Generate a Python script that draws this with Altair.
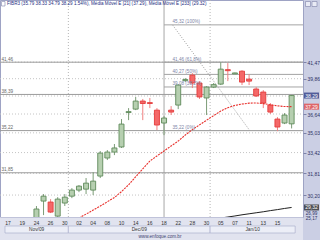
import altair as alt
import pandas as pd

# ---------------- data ----------------
day_labels = ["17", "18", "19", "23", "24", "25", "26", "27", "30",
              "01", "02", "03", "04", "07", "08", "09", "10", "11", "14", "15",
              "16", "17", "18", "21", "22", "23", "28", "29", "30",
              "04", "05", "06", "07", "08", "11", "12", "13", "14", "15", "18", "19"]
label_slots = list(range(0, 39, 2))

candle_slots = list(range(4, 41))
opens = [28.38, 29.77, 29.70, 28.72, 29.63, 30.12, 30.56, 30.63, 30.56, 31.60, 32.99, 33.46, 33.87,
         36.77, 37.07, 37.79, 37.65, 36.98, 35.86, 36.98, 37.43, 39.68, 40.20, 39.45, 38.07, 39.07,
         39.35, 40.73, 40.32, 40.58, 39.82, 38.89, 38.61, 37.43, 36.20, 35.86, 35.79]
highs = [29.42, 30.27, 29.91, 30.05, 30.27, 30.70, 30.93, 31.45, 31.90, 33.54, 33.62, 34.11, 36.20,
         37.16, 38.16, 37.98, 38.07, 37.16, 36.46, 37.34, 39.35, 39.92, 40.39, 39.63, 39.16, 39.45,
         41.47, 41.37, 40.44, 40.68, 40.30, 39.07, 38.79, 37.61, 36.37, 36.72, 38.33]
lows = [28.24, 28.79, 28.93, 28.59, 29.42, 29.98, 30.41, 30.27, 30.20, 31.45, 32.83, 33.22, 33.79,
        36.11, 36.98, 36.11, 37.16, 35.26, 34.84, 36.55, 37.07, 39.54, 38.98, 37.98, 36.55, 38.98,
        39.26, 39.63, 40.30, 39.26, 39.26, 38.16, 37.16, 36.64, 35.17, 35.77, 35.40]
closes = [29.21, 30.12, 29.00, 29.91, 30.05, 30.56, 30.85, 31.07, 31.22, 33.38, 33.46, 33.79, 35.77,
          36.85, 37.79, 37.57, 37.57, 35.69, 36.29, 36.81, 39.26, 39.78, 39.45, 38.16, 39.07, 39.30,
          40.78, 40.63, 40.41, 39.54, 39.63, 38.25, 37.61, 36.81, 35.52, 36.55, 38.29]

ema21_slots = list(range(10, 41))
ema21 = [28.59, 28.86, 29.14, 29.42, 29.72, 30.02, 30.45, 30.95, 31.55, 32.15, 32.75, 33.15, 33.55,
         33.95, 34.35, 34.85, 35.30, 35.70, 36.10, 36.50, 36.90, 37.20, 37.40, 37.52, 37.60, 37.62,
         37.56, 37.46, 37.36, 37.30, 37.29]
ema233_slots = list(range(29, 41))
ema233 = [28.52, 28.59, 28.66, 28.73, 28.81, 28.88, 28.95, 29.02, 29.10, 29.17, 29.25, 29.32]

y_ticks = [41.47, 39.86, 38.25, 36.64, 35.03, 33.42, 31.81, 30.20]
y_ticks_labelled = [41.47, 39.86, 36.64, 35.03, 33.42, 31.81, 30.20]

fib_a_values = [41.46, 38.39, 35.22, 31.85]
fib_a_labels = ["41,46", "38,39", "35,22", "31,85"]
fib_b_values = [45.32, 41.46, 40.27, 39.08, 35.22]
fib_b_labels = ["45,32 (100%)", "41,46 (61,8%)", "40,27 (50%)", "39,08 (38,2%)", "35,22 (0%)"]
fib_b_start = 22
fib_trend_slots = [23.2, 34.1]
fib_trend_values = [45.32, 35.22]

months = ["Nov/09", "Dec/09", "Jan/10"]
month_first = [0, 9, 29]
month_last = [8, 28, 40]

marker_values = [38.29, 37.29, 29.32]
marker_texts = ["38,29", "37,29", "29,32"]
marker_colors = ["#1d2b7b", "#e53935", "#1a1a1a"]
extra_axis_texts = ["26,99", "25,17"]

title_text = ("FIBR3 (35.79  38.33  34.79  38.29  1.54%), Média Móvel E [21] (37.29), "
              "Média Móvel E [233] (29.32)")
watermark = "www.enfoque.com.br"

# ---------------- layout ----------------
W, H = 303, 217
xmin, xmax = -0.4366, 40.9
ymin, ymax = 28.66, 48.09
FONT = "Liberation Sans"

xs = alt.Scale(domain=[xmin, xmax], nice=False, zero=False)
ys = alt.Scale(type="log", domain=[ymin, ymax], nice=False)
yaxis = alt.Axis(orient="right", values=y_ticks_labelled, grid=False, domain=False,
                 labelExpr="replace(format(datum.value, '.2f'), '.', ',')",
                 tickSize=3, tickColor="#7d82a8", labelFontSize=5, labelFont=FONT,
                 labelColor="#2d3366", labelPadding=1, labelOverlap=False, title=None)


def X(f):
    return alt.X(f, type="quantitative", scale=xs, axis=None)


def Y(f):
    return alt.Y(f, type="quantitative", scale=ys, axis=yaxis)


dummy = pd.DataFrame({"k": [0]})


def rect(x, x2, y, y2, fill, stroke=None, sw=0.0):
    kw = dict(fill=fill, clip=False)
    if stroke:
        kw.update(stroke=stroke, strokeWidth=sw)
    return alt.Chart(dummy).mark_rect(**kw).encode(
        x=alt.value(x), x2=alt.value(x2), y=alt.value(y), y2=alt.value(y2))


cdf = pd.DataFrame({"slot": candle_slots, "o": opens, "h": highs, "l": lows, "c": closes})
cdf["dir"] = ["up" if c >= o else "down" for o, c in zip(opens, closes)]

grid_df = pd.DataFrame({"v": y_ticks})
grid = alt.Chart(grid_df).mark_rule(color="#c4c4c4", strokeDash=[1, 2], strokeWidth=1).encode(
    y=Y("v"), x=alt.value(0), x2=alt.value(W))

msep_df = pd.DataFrame({"s": [f - 0.5 for f in month_first[1:]]})
msep = alt.Chart(msep_df).mark_rule(color="#b5b5b5", strokeDash=[1, 2]).encode(
    x=X("s"), y=alt.value(0), y2=alt.value(H))

vline = alt.Chart(pd.DataFrame({"s": [fib_b_start]})).mark_rule(color="#a8a8a8").encode(
    x=X("s"), y=alt.value(0), y2=alt.value(H))

fa_df = pd.DataFrame({"v": fib_a_values, "t": fib_a_labels})
fib_a = alt.Chart(fa_df).mark_rule(color="#9c9c9c", strokeWidth=1).encode(
    y=Y("v"), x=alt.value(0), x2=alt.value(W))
fib_a_txt = alt.Chart(fa_df).mark_text(align="left", baseline="bottom", dy=-0.5, fontSize=4.6,
                                       font=FONT, color="#666666").encode(
    x=alt.value(1.5), y=Y("v"), text="t:N")

fb_df = pd.DataFrame({"v": fib_b_values, "t": fib_b_labels,
                      "s": [fib_b_start] * len(fib_b_values),
                      "ls": [fib_trend_slots[0]] * len(fib_b_values)})
fib_b = alt.Chart(fb_df).mark_rule(color="#a4a4a4", strokeWidth=1).encode(
    y=Y("v"), x=X("s"), x2=alt.value(W))
fib_b_txt = alt.Chart(fb_df).mark_text(align="left", baseline="bottom", dy=-0.5, fontSize=4.6,
                                       font=FONT, color="#7d84a6").encode(
    x=X("ls"), y=Y("v"), text="t:N")

trend = alt.Chart(pd.DataFrame({"s": fib_trend_slots, "v": fib_trend_values})).mark_line(
    color="#a0a0a0", strokeDash=[1, 1.5], strokeWidth=1, clip=True).encode(x=X("s"), y=Y("v"))

wicks = alt.Chart(cdf).mark_rule(strokeWidth=1, clip=True).encode(
    x=X("slot"), y=Y("l"), y2="h",
    color=alt.Color("dir:N", scale=alt.Scale(domain=["up", "down"], range=["#7c9c77", "#f08080"]),
                    legend=None))
bodies = alt.Chart(cdf).mark_bar(size=5, strokeWidth=0.9, clip=True).encode(
    x=X("slot"), y=Y("o"), y2="c",
    fill=alt.Fill("dir:N", scale=alt.Scale(domain=["up", "down"], range=["#b6cfb0", "#f46868"]),
                  legend=None),
    stroke=alt.Stroke("dir:N", scale=alt.Scale(domain=["up", "down"], range=["#5f8a5a", "#e43c3c"]),
                      legend=None))

e21 = alt.Chart(pd.DataFrame({"s": ema21_slots, "v": ema21})).mark_line(
    color="#e8302c", strokeWidth=1.1, strokeDash=[2, 1], clip=True).encode(x=X("s"), y=Y("v"))
e233 = alt.Chart(pd.DataFrame({"s": ema233_slots, "v": ema233})).mark_line(
    color="#202020", strokeWidth=1, clip=True).encode(x=X("s"), y=Y("v"))

mk_df = pd.DataFrame({"v": marker_values, "t": marker_texts, "col": marker_colors})
mk_box = alt.Chart(mk_df).mark_tick(thickness=6, size=15, orient="horizontal", clip=False).encode(
    y=Y("v"), x=alt.value(311.5), color=alt.Color("col:N", scale=None))
mk_txt = alt.Chart(mk_df).mark_text(fontSize=5, font=FONT, color="white", clip=False).encode(
    y=Y("v"), x=alt.value(311.5), text="t:N")
extra_txt = alt.Chart(pd.DataFrame({"t": extra_axis_texts, "yy": [214, 218.5]})).mark_text(
    fontSize=4.6, font=FONT, color="#2d3366", clip=False).encode(
    x=alt.value(311.5), y=alt.Y("yy:Q", scale=None, axis=None), text="t:N")

bottom = rect(0, W, H + 0.5, H + 23, "#e1e3ef")
xl_df = pd.DataFrame({"slot": label_slots, "t": [day_labels[i] for i in label_slots]})
xlabels = alt.Chart(xl_df).mark_text(fontSize=5, font=FONT, color="#333333", clip=False).encode(
    x=X("slot"), y=alt.value(H + 5.5), text="t:N")

mdf = pd.DataFrame({"m": months, "f": month_first, "l": month_last})
mdf["x0"] = [max(f - 0.5, xmin) for f in month_first]
mdf["x1"] = [min(l + 0.5, xmax) for l in month_last]
mdf["mid"] = (mdf["x0"] + mdf["x1"]) / 2
mboxes = alt.Chart(mdf).mark_rect(fill="#eceef7", stroke="#a3a8c8", strokeWidth=0.6, clip=False).encode(
    x=X("x0"), x2="x1", y=alt.value(H + 9), y2=alt.value(H + 16))
mtext = alt.Chart(mdf).mark_text(fontSize=4.8, font=FONT, color="#333333", clip=False).encode(
    x=X("mid"), y=alt.value(H + 12.5), text="m:N")
wm = alt.Chart(dummy).mark_text(fontSize=4.6, font=FONT, color="#3c4270", clip=False).encode(
    x=alt.value(160), y=alt.value(H + 20), text=alt.value(watermark))

title = alt.Chart(dummy).mark_text(fontSize=4.6, font=FONT, color="#1c2c80", align="left",
                                   baseline="middle", clip=False).encode(
    x=alt.value(7), y=alt.value(4), text=alt.value(title_text))
icon0 = rect(1.5, 5, 1.5, 6, "#ffffff", "#7d82a8", 0.6)
icon1 = rect(305.5, 310.5, 1.5, 6.5, "#e9ebf5", "#7d82a8", 0.6)
icon2 = rect(312, 317, 1.5, 6.5, "#e9ebf5", "#7d82a8", 0.6)

chart = alt.layer(
    bottom, grid, msep, vline, fib_a, fib_b, trend, wicks, bodies, e233, e21,
    fib_a_txt, fib_b_txt, mk_box, mk_txt, extra_txt, xlabels, mboxes, mtext, wm,
    title, icon0, icon1, icon2
).properties(
    width=W, height=H,
    padding={"left": 0, "top": 0, "right": 17, "bottom": 23},
    autosize=alt.AutoSizeParams(type="none"),
    background="#cbcfe4",
).configure_view(fill="white", stroke="#9ea3c4", strokeWidth=1)

chart.save("out.html", embed_options={"renderer": "svg", "actions": False})
